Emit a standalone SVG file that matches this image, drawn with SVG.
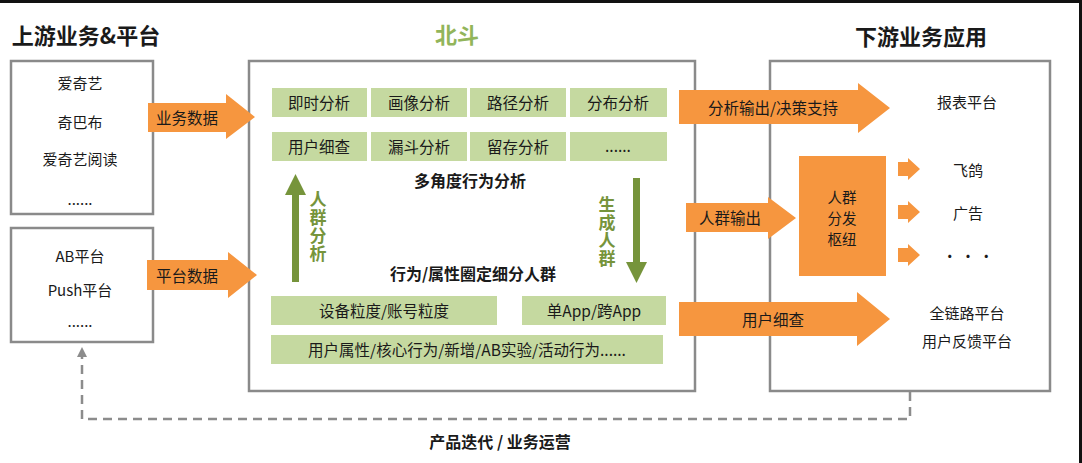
<svg xmlns="http://www.w3.org/2000/svg" width="1082" height="463" viewBox="0 0 1082 463">
<style>
text{font-family:"Noto Sans CJK SC","Noto Sans",sans-serif;fill:#1a1a1a;text-anchor:middle;dominant-baseline:central}
.box{fill:#fff;stroke:#8a8a8a;stroke-width:2.5}
.cell{fill:#c5d9a0}
.org{fill:#f6963f}
.t{font-size:15px}
.c{font-size:15.5px}
.hub{font-size:14.5px}
.h{font-size:22px;font-weight:bold}
.b{font-size:16px;font-weight:bold}
.v{font-size:17px;font-weight:bold;fill:#76943b;writing-mode:vertical-rl;letter-spacing:1px}
.ga{fill:#76943b}
.dash{fill:none;stroke:#8c8c8c;stroke-width:2.5;stroke-dasharray:9 6}
</style>
<defs>
<marker id="ah" markerWidth="10" markerHeight="10" refX="5" refY="5" orient="auto" markerUnits="userSpaceOnUse">
<path d="M0,0 L10,5 L0,10 z" fill="#8c8c8c"/>
</marker>
</defs>
<rect width="1082" height="463" fill="#fff"/>
<rect x="0" y="0" width="1082" height="3" fill="#111"/>
<rect x="1079" y="0" width="3" height="463" fill="#111"/>

<text x="86" y="34" class="h">上游业务&amp;平台</text>
<text x="457" y="33" class="h" style="fill:#92b55a">北斗</text>
<text x="921" y="35" class="h">下游业务应用</text>

<g id="upstream1">
<rect class="box" x="11" y="61" width="142" height="153"/>
<text x="80" y="82" class="t">爱奇艺</text>
<text x="80" y="121" class="t">奇巴布</text>
<text x="80" y="158" class="t">爱奇艺阅读</text>
<text x="80" y="198" class="t">......</text>
</g>
<g id="upstream2">
<rect class="box" x="11" y="228" width="142" height="114"/>
<text x="80" y="255" class="t">AB平台</text>
<text x="80" y="289" class="t">Push平台</text>
<text x="80" y="320" class="t">......</text>
</g>

<g id="beidou">
<rect class="box" x="249" y="61" width="446" height="330"/>
<rect class="cell" x="272" y="88" width="95" height="29"/><text x="319" y="102" class="c">即时分析</text>
<rect class="cell" x="371" y="88" width="96" height="29"/><text x="419" y="102" class="c">画像分析</text>
<rect class="cell" x="470" y="88" width="96" height="29"/><text x="518" y="102" class="c">路径分析</text>
<rect class="cell" x="570" y="88" width="97" height="29"/><text x="618" y="102" class="c">分布分析</text>
<rect class="cell" x="272" y="132" width="95" height="29"/><text x="319" y="146" class="c">用户细查</text>
<rect class="cell" x="371" y="132" width="96" height="29"/><text x="419" y="146" class="c">漏斗分析</text>
<rect class="cell" x="470" y="132" width="96" height="29"/><text x="518" y="146" class="c">留存分析</text>
<rect class="cell" x="570" y="132" width="97" height="29"/><text x="618" y="145" class="c">......</text>
<text x="470" y="180" class="b">多角度行为分析</text>
<path class="ga" d="M292,282 L292,195 L285,195 L295.5,174 L306,195 L299,195 L299,282 z"/>
<text x="318" y="227" class="v">人群分析</text>
<path class="ga" d="M633,178 L640,178 L640,262 L647,262 L636.5,283 L626,262 L633,262 z"/>
<text x="607" y="232" class="v">生成人群</text>
<text x="473" y="273" class="b">行为/属性圈定细分人群</text>
<rect class="cell" x="271" y="296" width="226" height="29"/><text x="384" y="310" class="c">设备粒度/账号粒度</text>
<rect class="cell" x="522" y="296" width="144" height="29"/><text x="594" y="310" class="c">单App/跨App</text>
<rect class="cell" x="271" y="335" width="392" height="29"/><text x="467" y="349" class="c">用户属性/核心行为/新增/AB实验/活动行为......</text>
</g>

<g id="downstream">
<rect class="box" x="770" y="61" width="280" height="330"/>
<text x="967" y="101" class="t">报表平台</text>
<rect class="org" x="799" y="156" width="87" height="120"/>
<text x="842" y="196" class="hub">人群</text>
<text x="842" y="217" class="hub">分发</text>
<text x="842" y="238" class="hub">枢纽</text>
<text x="968" y="169" class="t">飞鸽</text>
<text x="968" y="212" class="t">广告</text>
<text x="968" y="255" class="t">• • •</text>
<text x="967" y="312" class="t">全链路平台</text>
<text x="967" y="340" class="t">用户反馈平台</text>
</g>

<g id="connectors">
<path class="org" d="M148,103 L226,103 L226,94 L255,117 L226,139 L226,132 L148,132 z"/>
<text x="187" y="117" class="c">业务数据</text>
<path class="org" d="M147,260 L228,260 L228,252 L257,275 L228,298 L228,290 L147,290 z"/>
<text x="187" y="275" class="c">平台数据</text>
<path class="org" d="M679,90 L858,90 L858,83 L890,108 L858,133 L858,124 L679,124 z"/>
<text x="773" y="107" class="c">分析输出/决策支持</text>
<path class="org" d="M686,203 L768,203 L768,197 L796,218 L768,239 L768,232 L686,232 z"/>
<text x="730" y="217" class="c">人群输出</text>
<path class="org" d="M679,302 L857,302 L857,292 L890,319 L857,346 L857,336 L679,336 z"/>
<text x="773" y="319" class="c">用户细查</text>
<path class="org" d="M898,162 L908,162 L908,158 L920,169 L908,180 L908,176 L898,176 z"/>
<path class="org" d="M898,205 L908,205 L908,201 L920,212 L908,223 L908,219 L898,219 z"/>
<path class="org" d="M898,248 L908,248 L908,244 L920,255 L908,266 L908,262 L898,262 z"/>
<path class="dash" d="M910,392 L910,419 L82,419 L82,352" marker-end="url(#ah)"/>
<text x="500" y="441" class="b">产品迭代 / 业务运营</text>
</g>
</svg>
